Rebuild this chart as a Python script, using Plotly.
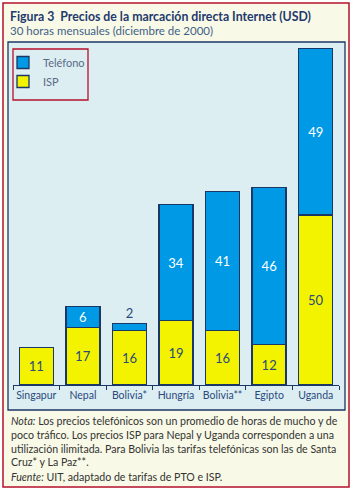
import plotly.graph_objects as go

countries = ["Singapur", "Nepal", "Bolivia*", "Hungría", "Bolivia**", "Egipto", "Uganda"]
isp = [11, 17, 16, 19, 16, 12, 50]
telefono = [0, 6, 2, 34, 41, 46, 49]

W, H = 353, 489
L, R, T, B = 13, 14, 45, 104
PW, PH = W - L - R, H - T - B

def px(x):
    return (x - L) / PW

def py(y):
    return (H - B - y) / PH

NAVY = "#1b3766"
TXT = "#2b4a7c"
BLUE = "#0099e6"
YELLOW = "#f3f300"
RED = "#b5102b"
CREAM = "#f8f9e6"
PANEL = "#dcEEf2"
FONT = "Lato"

fig = go.Figure()
fig.add_trace(go.Bar(
    x=countries, y=isp, name="ISP",
    marker=dict(color=YELLOW, line=dict(color=NAVY, width=1.3)),
    text=[str(v) for v in isp], textposition="inside", insidetextanchor="middle",
    textangle=0, constraintext="none",
    textfont=dict(color=TXT, size=13, family=FONT), width=0.73,
))
tel_text = [str(v) if v > 0 else "" for v in telefono]
tel_pos = ["outside" if v < 4 else "inside" for v in telefono]
tel_col = [TXT if v < 4 else "white" for v in telefono]
fig.add_trace(go.Bar(
    x=countries, y=telefono, name="Teléfono",
    marker=dict(color=BLUE, line=dict(color=NAVY, width=1.3)),
    text=tel_text, textposition=tel_pos, insidetextanchor="middle",
    textangle=0, constraintext="none",
    textfont=dict(color=tel_col, size=13, family=FONT), width=0.73,
    cliponaxis=False,
))

shapes = [
    dict(type="rect", xref="paper", yref="paper", x0=px(3), x1=px(349), y0=py(487), y1=py(3),
         fillcolor=CREAM, line=dict(color=RED, width=1.5), layer="below"),
    dict(type="rect", xref="paper", yref="paper", x0=px(8), x1=px(345), y0=py(410), y1=py(42),
         fillcolor=PANEL, line=dict(color=NAVY, width=1.3), layer="below"),
    dict(type="rect", xref="paper", yref="paper", x0=px(13), x1=px(88), y0=py(100), y1=py(49),
         fillcolor="rgba(0,0,0,0)", line=dict(color=RED, width=1.3), layer="below"),
]

annotations = [
    dict(text="<b>Figura 3  Precios de la marcación directa Internet (USD)</b>",
         x=px(8), y=py(16), xref="paper", yref="paper", xanchor="left", yanchor="middle",
         showarrow=False, font=dict(size=12.3, color="#1f3a6e", family=FONT)),
    dict(text="30 horas mensuales (diciembre de 2000)",
         x=px(8), y=py(31), xref="paper", yref="paper", xanchor="left", yanchor="middle",
         showarrow=False, font=dict(size=11.5, color="#3f5f88", family=FONT)),
    dict(text="<i>Nota:</i> Los precios telefónicos son un promedio de horas de mucho y de<br>"
              "poco tráfico. Los precios ISP para Nepal y Uganda corresponden a una<br>"
              "utilización ilimitada. Para Bolivia las tarifas telefónicas son las de Santa<br>"
              "Cruz* y La Paz**.",
         x=px(9), y=py(413), xref="paper", yref="paper", xanchor="left", yanchor="top",
         align="left", showarrow=False, font=dict(size=10.6, color="#333333", family=FONT)),
    dict(text="<i>Fuente:</i> UIT, adaptado de tarifas de PTO e ISP.",
         x=px(9), y=py(477), xref="paper", yref="paper", xanchor="left", yanchor="middle",
         align="left", showarrow=False, font=dict(size=10.6, color="#333333", family=FONT)),
]

fig.update_layout(
    width=W, height=H, margin=dict(l=L, r=R, t=T, b=B, autoexpand=False),
    paper_bgcolor="white", plot_bgcolor="rgba(0,0,0,0)",
    barmode="stack", bargap=0.27,
    shapes=shapes, annotations=annotations,
    showlegend=True,
    legend=dict(x=px(3), y=py(48), xanchor="left", yanchor="top", traceorder="reversed",
                bgcolor="rgba(0,0,0,0)", borderwidth=0,
                font=dict(size=11, color="#5a6a85", family=FONT), itemwidth=30),
    xaxis=dict(showline=True, linecolor=NAVY, linewidth=1.3, ticks="outside", tickson="boundaries",
               ticklen=4, tickcolor=NAVY, tickangle=0,
               tickfont=dict(size=10.5, color=TXT, family=FONT),
               showgrid=False, fixedrange=True, automargin=False),
    yaxis=dict(range=[0, 100], visible=False, showgrid=False, fixedrange=True, automargin=False),
    uniformtext=dict(mode=False),
)

fig.write_html("out.html")
